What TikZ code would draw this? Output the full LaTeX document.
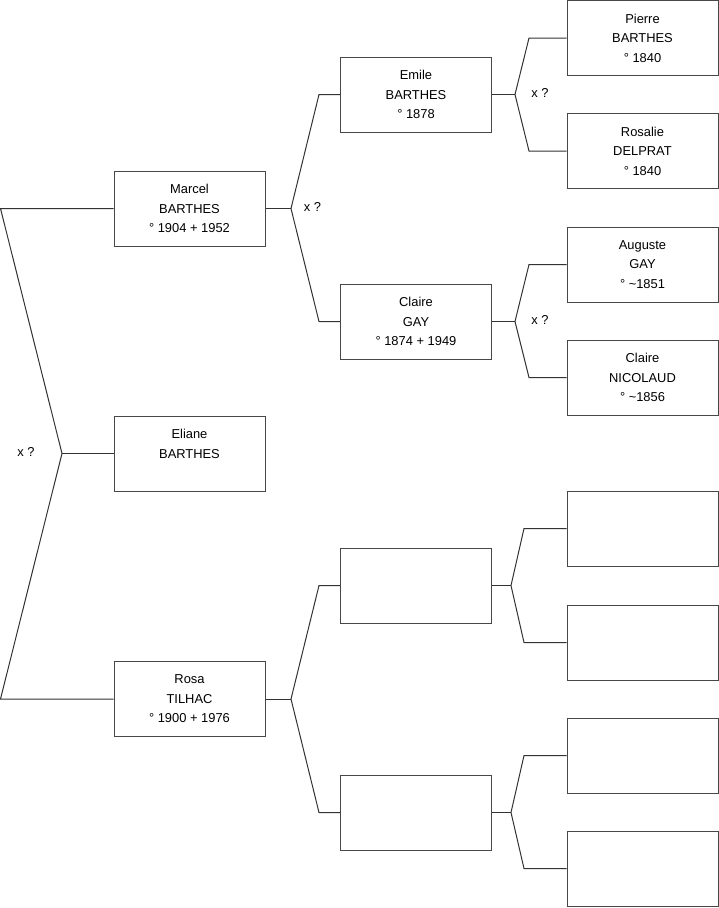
\documentclass[tikz,border=0pt]{standalone}
\usepackage{fontspec}
\setmainfont{Liberation Sans}
\begin{document}
\begin{tikzpicture}[x=1pt,y=-1pt,
  person/.style={draw=black!72, line width=1pt, fill=white, minimum width=151pt, minimum height=75pt, inner sep=0pt, align=center, font=\fontsize{12.9}{19.5}\selectfont},
  conn/.style={draw=black!80, line width=1pt},
  lbl/.style={font=\fontsize{12.9}{15}\selectfont, inner sep=0pt}]
\useasboundingbox (0,0) rectangle (719,908);
% generation 1
\node[person] (marcel) at (189.5,208.5) {Marcel\\BARTHES\\° 1904 + 1952};
\node[person] (eliane) at (189.5,453.5) {Eliane\\BARTHES\\\mbox{}};
\node[person] (rosa) at (189.5,699) {Rosa\\TILHAC\\° 1900 + 1976};
% generation 2
\node[person] (emile) at (416,94.5) {Emile\\BARTHES\\° 1878};
\node[person] (claireg) at (416,321.5) {Claire\\GAY\\° 1874 + 1949};
\node[person] (ea) at (416,585.5) {};
\node[person] (eb) at (416,812.5) {};
% generation 3
\node[person] (pierre) at (642.5,38) {Pierre\\BARTHES\\° 1840};
\node[person] (rosalie) at (642.5,151) {Rosalie\\DELPRAT\\° 1840};
\node[person] (auguste) at (642.5,264.5) {Auguste\\GAY\\° \textasciitilde1851};
\node[person] (clairen) at (642.5,377.5) {Claire\\NICOLAUD\\° \textasciitilde1856};
\node[person] (fa) at (642.5,528.5) {};
\node[person] (fb) at (642.5,642.5) {};
\node[person] (fc) at (642.5,755.5) {};
\node[person] (fd) at (642.5,868.5) {};
% coordinates
\coordinate (l1) at (0.5,208.5);
\coordinate (l2) at (0.5,699);
\coordinate (j0) at (62,453.5);
\coordinate (j1) at (291,208.5);
\coordinate (j1a) at (319,94.5);
\coordinate (j1b) at (319,321.5);
\coordinate (j2) at (291,699);
\coordinate (j2a) at (319,585.5);
\coordinate (j2b) at (319,812.5);
\coordinate (k1) at (515,94.5);
\coordinate (k1a) at (529,38);
\coordinate (k1b) at (529,151);
\coordinate (k2) at (515,321.5);
\coordinate (k2a) at (529,264.5);
\coordinate (k2b) at (529,377.5);
\coordinate (k3) at (511,585.5);
\coordinate (k3a) at (524,528.5);
\coordinate (k3b) at (524,642.5);
\coordinate (k4) at (511,812.5);
\coordinate (k4a) at (524,755.5);
\coordinate (k4b) at (524,868.5);
% connectors
\draw[conn] (marcel.west) -- (l1) -- (j0) -- (l2) -- (rosa.west);
\draw[conn] (j0) -- (eliane.west);
\draw[conn] (marcel.east) -- (j1);
\draw[conn] (emile.west) -- (j1a) -- (j1) -- (j1b) -- (claireg.west);
\draw[conn] (rosa.east) -- (j2);
\draw[conn] (ea.west) -- (j2a) -- (j2) -- (j2b) -- (eb.west);
\draw[conn] (emile.east) -- (k1);
\draw[conn] (pierre.west) -- (k1a) -- (k1) -- (k1b) -- (rosalie.west);
\draw[conn] (claireg.east) -- (k2);
\draw[conn] (auguste.west) -- (k2a) -- (k2) -- (k2b) -- (clairen.west);
\draw[conn] (ea.east) -- (k3);
\draw[conn] (fa.west) -- (k3a) -- (k3) -- (k3b) -- (fb.west);
\draw[conn] (eb.east) -- (k4);
\draw[conn] (fc.west) -- (k4a) -- (k4) -- (k4b) -- (fd.west);
% labels
\node[lbl] (x0) at (26,451.5) {x ?};
\node[lbl] (x1) at (312.5,207) {x ?};
\node[lbl] (x2) at (540,93) {x ?};
\node[lbl] (x3) at (540,320) {x ?};
\end{tikzpicture}
\end{document}
